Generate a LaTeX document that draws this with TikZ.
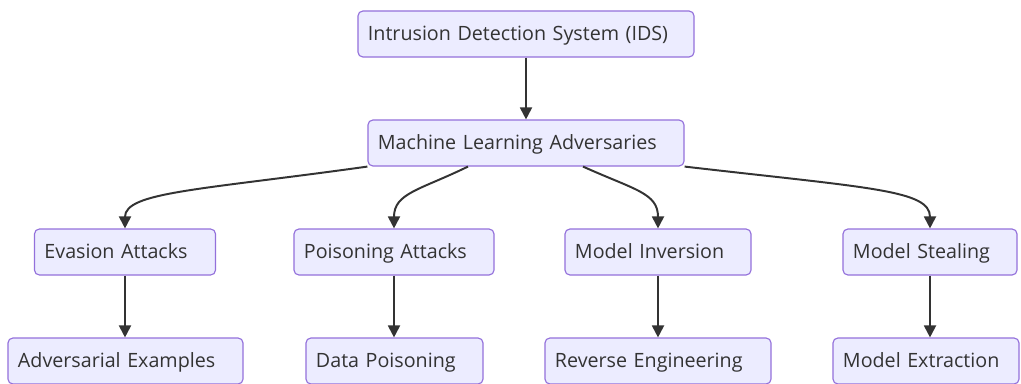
\documentclass[tikz,border=0pt]{standalone}
\usepackage{fontspec}
\setmainfont{Open Sans}
\usepackage{tikz}
\usetikzlibrary{positioning,arrows.meta}

\definecolor{boxfill}{HTML}{ECECFF}
\definecolor{boxline}{HTML}{9370DB}
\definecolor{ink}{HTML}{333333}

\begin{document}
\begin{tikzpicture}[x=0.025cm, y=-0.025cm,
	box/.style={draw=boxline, fill=boxfill, line width=0.8pt, rounded corners=3.5pt,
		align=left, inner xsep=0.25cm, inner ysep=0pt, minimum height=1.15cm,
		text height=0.98em, text depth=0.1em,
		text=ink, font=\fontsize{14}{16}\selectfont},
	edge/.style={draw=ink, line width=1.4pt, -{Triangle[length=8.5pt,width=8.5pt]}}]

	\useasboundingbox (0,0) rectangle (1021,383);

	\node[box, text width=7.9cm] (ids) at (526,34) {Intrusion Detection System (IDS)};
	\node[box, text width=7.4cm] (mla) at (526,143) {Machine Learning Adversaries};

	\node[box, text width=4.025cm] (evasion) at (125,252) {Evasion Attacks};
	\node[box, text width=4.5cm] (poison) at (394,252) {Poisoning Attacks};
	\node[box, text width=4.15cm] (inversion) at (658,252) {Model Inversion};
	\node[box, text width=3.85cm] (stealing) at (930,252) {Model Stealing};

	\node[box, text width=5.375cm] (adv) at (125.5,361) {Adversarial Examples};
	\node[box, text width=3.925cm] (datapois) at (394.5,361) {Data Poisoning};
	\node[box, text width=5.15cm] (reverse) at (658,361) {Reverse Engineering};
	\node[box, text width=4.15cm] (extract) at (926,361) {Model Extraction};

	\draw[edge] (ids) -- (mla);

	\draw[edge] (mla.south west) .. controls (200,190) and (125,192) .. (evasion.north);
	\draw[edge] ([xshift=-1.45cm]mla.south) .. controls (420,190) and (394,193) .. (poison.north);
	\draw[edge] ([xshift=1.425cm]mla.south) .. controls (635,190) and (658,193) .. (inversion.north);
	\draw[edge] (mla.south east) .. controls (870,188) and (930,190) .. (stealing.north);

	\draw[edge] (evasion) -- (evasion |- adv.north);
	\draw[edge] (poison) -- (poison |- datapois.north);
	\draw[edge] (inversion) -- (inversion |- reverse.north);
	\draw[edge] (stealing) -- (stealing |- extract.north);
\end{tikzpicture}
\end{document}
